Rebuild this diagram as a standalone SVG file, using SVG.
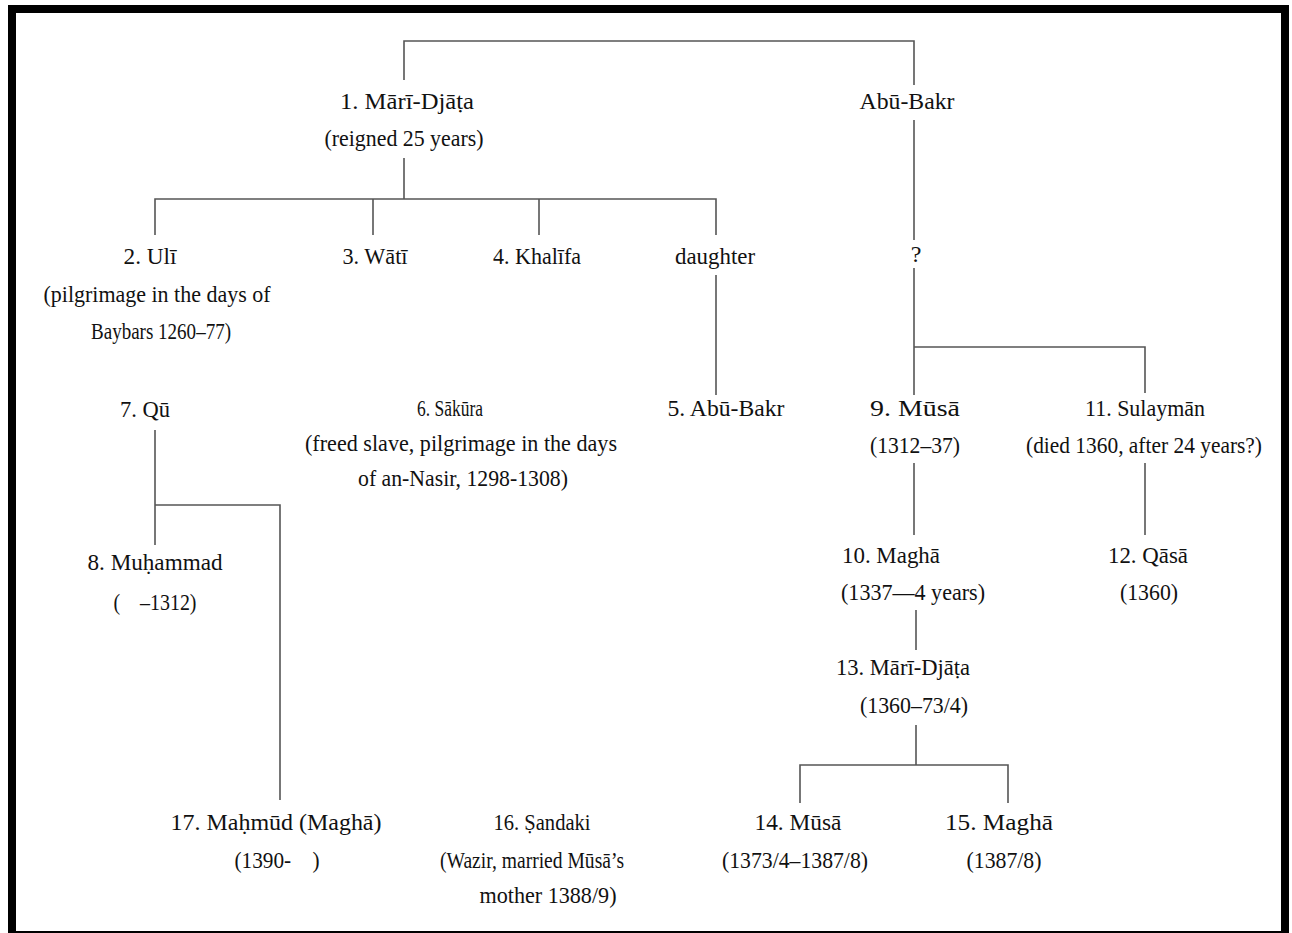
<svg xmlns="http://www.w3.org/2000/svg" width="1292" height="933" viewBox="0 0 1292 933">
<style>
text{font-family:"Liberation Serif","Times New Roman",serif;font-size:24px;fill:#111;text-anchor:middle;white-space:pre}
.ln{stroke:#555;stroke-width:1.6;fill:none}
</style>
<rect x="0" y="0" width="1292" height="933" fill="#fff"/>
<rect x="12" y="9" width="1273" height="926" fill="none" stroke="#000" stroke-width="8"/>
<g id="connectors" class="ln">
<path d="M404,80 V41 H914 V85"/>
<path d="M404,158 V199"/>
<path d="M155,235 V199 H716 V235"/>
<path d="M373,199 V235"/>
<path d="M539,199 V235"/>
<path d="M716,275 V395"/>
<path d="M914,120 V240"/>
<path d="M914,268 V395"/>
<path d="M914,347 H1145 V393"/>
<path d="M914,463 V535"/>
<path d="M1145,463 V535"/>
<path d="M916,610 V650"/>
<path d="M916,725 V765"/>
<path d="M800,803 V765 H1008 V803"/>
<path d="M155,430 V545"/>
<path d="M155,505 H280 V800"/>
</g>
<g id="n1"><text x="407" y="109" textLength="134" lengthAdjust="spacingAndGlyphs">1. Mārī-Djāṭa</text><text x="404" y="146" textLength="159" lengthAdjust="spacingAndGlyphs">(reigned 25 years)</text></g>
<g id="abubakr"><text x="907" y="109" textLength="95" lengthAdjust="spacingAndGlyphs">Abū-Bakr</text></g>
<g id="n2"><text x="150" y="264" textLength="53" lengthAdjust="spacingAndGlyphs">2. Ulī</text><text x="157" y="302" textLength="227" lengthAdjust="spacingAndGlyphs">(pilgrimage in the days of</text><text x="161" y="339" textLength="140" lengthAdjust="spacingAndGlyphs">Baybars 1260–77)</text></g>
<g id="n3"><text x="375" y="264" textLength="65" lengthAdjust="spacingAndGlyphs">3. Wātī</text></g>
<g id="n4"><text x="537" y="264" textLength="88" lengthAdjust="spacingAndGlyphs">4. Khalīfa</text></g>
<g id="daughter"><text x="715" y="264" textLength="80" lengthAdjust="spacingAndGlyphs">daughter</text></g>
<g id="q"><text x="916" y="262">?</text></g>
<g id="n7"><text x="145" y="417" textLength="50" lengthAdjust="spacingAndGlyphs">7. Qū</text></g>
<g id="n6"><text x="450" y="416" textLength="66" lengthAdjust="spacingAndGlyphs">6. Sākūra</text><text x="461" y="451" textLength="312" lengthAdjust="spacingAndGlyphs">(freed slave, pilgrimage in the days</text><text x="463" y="486" textLength="210" lengthAdjust="spacingAndGlyphs">of an-Nasir, 1298-1308)</text></g>
<g id="n5"><text x="726" y="416" textLength="117" lengthAdjust="spacingAndGlyphs">5. Abū-Bakr</text></g>
<g id="n9"><text x="915" y="416" textLength="90" lengthAdjust="spacingAndGlyphs">9. Mūsā</text><text x="915" y="453" textLength="90" lengthAdjust="spacingAndGlyphs">(1312–37)</text></g>
<g id="n11"><text x="1145" y="416" textLength="120" lengthAdjust="spacingAndGlyphs">11. Sulaymān</text><text x="1144" y="453" textLength="236" lengthAdjust="spacingAndGlyphs">(died 1360, after 24 years?)</text></g>
<g id="n8"><text x="155" y="570" textLength="135" lengthAdjust="spacingAndGlyphs">8. Muḥammad</text><text x="155" y="610" textLength="83" lengthAdjust="spacingAndGlyphs">(    –1312)</text></g>
<g id="n10"><text x="891" y="563" textLength="98" lengthAdjust="spacingAndGlyphs">10. Maghā</text><text x="913" y="600" textLength="144" lengthAdjust="spacingAndGlyphs">(1337—4 years)</text></g>
<g id="n12"><text x="1148" y="563" textLength="80" lengthAdjust="spacingAndGlyphs">12. Qāsā</text><text x="1149" y="600" textLength="58" lengthAdjust="spacingAndGlyphs">(1360)</text></g>
<g id="n13"><text x="903" y="675" textLength="134" lengthAdjust="spacingAndGlyphs">13. Mārī-Djāṭa</text><text x="914" y="713" textLength="108" lengthAdjust="spacingAndGlyphs">(1360–73/4)</text></g>
<g id="n14"><text x="798" y="830" textLength="87" lengthAdjust="spacingAndGlyphs">14. Mūsā</text><text x="795" y="868" textLength="146" lengthAdjust="spacingAndGlyphs">(1373/4–1387/8)</text></g>
<g id="n15"><text x="999" y="830" textLength="108" lengthAdjust="spacingAndGlyphs">15. Maghā</text><text x="1004" y="868" textLength="75" lengthAdjust="spacingAndGlyphs">(1387/8)</text></g>
<g id="n16"><text x="542" y="830" textLength="97" lengthAdjust="spacingAndGlyphs">16. Ṣandaki</text><text x="532" y="868" textLength="184" lengthAdjust="spacingAndGlyphs">(Wazir, married Mūsā’s</text><text x="548" y="903" textLength="137" lengthAdjust="spacingAndGlyphs">mother 1388/9)</text></g>
<g id="n17"><text x="276" y="830" textLength="211" lengthAdjust="spacingAndGlyphs">17. Maḥmūd (Maghā)</text><text x="277" y="868" textLength="85" lengthAdjust="spacingAndGlyphs">(1390-    )</text></g>
</svg>
